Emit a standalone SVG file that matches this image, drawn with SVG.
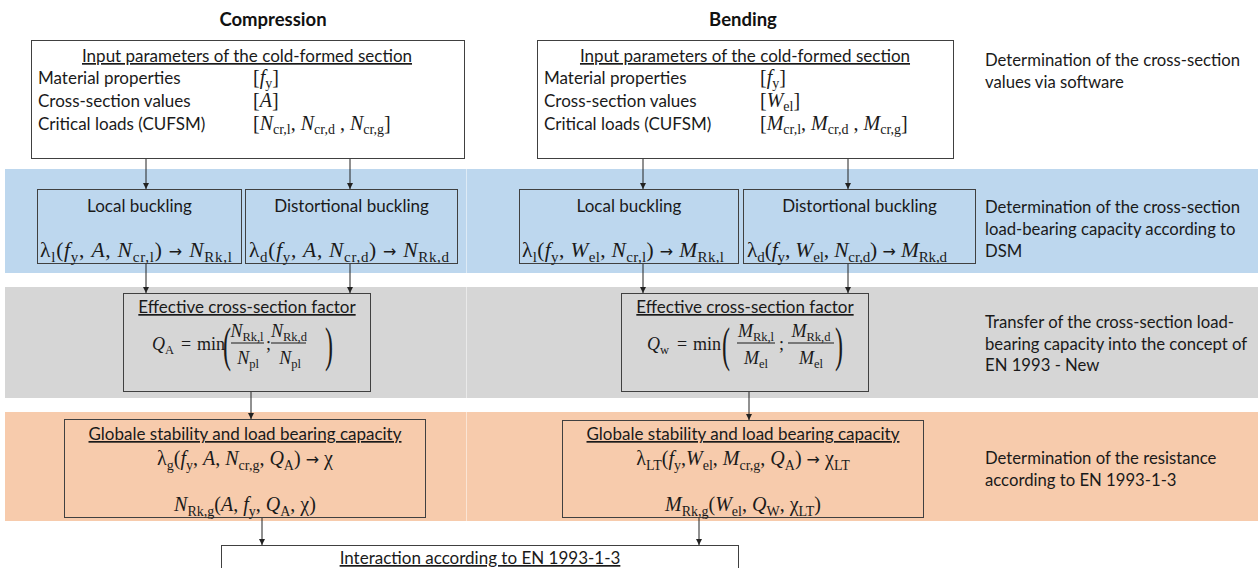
<svg xmlns="http://www.w3.org/2000/svg" width="1258" height="568" viewBox="0 0 1258 568">
<defs>
<style>
.sans{font-family:Lato,"Open Sans","Liberation Sans",sans-serif;font-size:17px;fill:#1a1a1a}
.head{font-family:Lato,"Open Sans","Liberation Sans",sans-serif;font-size:18.5px;font-weight:bold;fill:#111}
.note{font-family:Lato,"Open Sans","Liberation Sans",sans-serif;font-size:16.7px;fill:#1a1a1a}
.m{font-family:"Liberation Serif","DejaVu Serif",serif;font-size:20px;fill:#1a1a1a}
.b{font-size:21.5px}
.f{font-family:"Liberation Serif","DejaVu Serif",serif;font-size:18px;fill:#1a1a1a}
.i{font-style:italic}
.s{font-size:14px}
.bs{font-size:15px}
.fs{font-size:12.5px}
.ar{font-family:"DejaVu Sans",sans-serif;font-size:16px}
.u{text-decoration:underline}
.box{stroke:#404040;stroke-width:1}
.w{fill:#ffffff}
.bl{fill:none}
.gr{fill:#d6d6d6}
.or{fill:#f7cbac}
.conn line{stroke:#222;stroke-width:1}
.fl{stroke:#1a1a1a;stroke-width:1}
.par{font-family:"Liberation Serif","DejaVu Serif",serif;font-size:24px;fill:#1a1a1a}
</style>
<marker id="ah" markerUnits="userSpaceOnUse" markerWidth="7" markerHeight="7" refX="6" refY="3" orient="auto">
<path d="M0,0 L6,3 L0,6 z" fill="#222"/>
</marker>
</defs>

<g id="bands">
<rect x="5" y="169" width="461" height="104" fill="#bdd7ee"/>
<rect x="466.5" y="169" width="791.5" height="104" fill="#bdd7ee"/>
<rect x="5" y="287" width="461" height="111" fill="#d6d6d6"/>
<rect x="466.5" y="287" width="791.5" height="111" fill="#d6d6d6"/>
<rect x="5" y="412" width="461" height="109" fill="#f7cbac"/>
<rect x="466.5" y="412" width="791.5" height="109" fill="#f7cbac"/>
</g>

<g id="headings">
<text class="head" x="273" y="26" text-anchor="middle">Compression</text>
<text class="head" x="743" y="26" text-anchor="middle">Bending</text>
</g>

<g id="input-compression">
<rect class="box w" x="31.5" y="40.5" width="433" height="118"/>
<text class="sans u" x="247" y="62" text-anchor="middle">Input parameters of the cold-formed section</text>
<text class="sans" x="38" y="84">Material properties</text>
<text class="sans" x="38" y="107">Cross-section values</text>
<text class="sans" x="38" y="130">Critical loads (CUFSM)</text>
<text class="m" x="253" y="84">[<tspan class="i">f</tspan><tspan class="s" dy="4">y</tspan><tspan dy="-4">]</tspan></text>
<text class="m" x="253" y="107">[<tspan class="i">A</tspan>]</text>
<text class="m" x="253" y="130">[<tspan class="i">N</tspan><tspan class="s" dy="4">cr,l</tspan><tspan dy="-4">, </tspan><tspan class="i">N</tspan><tspan class="s" dy="4">cr,d</tspan><tspan dy="-4"> , </tspan><tspan class="i">N</tspan><tspan class="s" dy="4">cr,g</tspan><tspan dy="-4">]</tspan></text>
</g>

<g id="input-bending">
<rect class="box w" x="537.5" y="40.5" width="416" height="118"/>
<text class="sans u" x="745" y="62" text-anchor="middle">Input parameters of the cold-formed section</text>
<text class="sans" x="544" y="84">Material properties</text>
<text class="sans" x="544" y="107">Cross-section values</text>
<text class="sans" x="544" y="130">Critical loads (CUFSM)</text>
<text class="m" x="760" y="84">[<tspan class="i">f</tspan><tspan class="s" dy="4">y</tspan><tspan dy="-4">]</tspan></text>
<text class="m" x="760" y="107">[<tspan class="i">W</tspan><tspan class="s" dy="4">el</tspan><tspan dy="-4">]</tspan></text>
<text class="m" x="760" y="130">[<tspan class="i">M</tspan><tspan class="s" dy="4">cr,l</tspan><tspan dy="-4">, </tspan><tspan class="i">M</tspan><tspan class="s" dy="4">cr,d</tspan><tspan dy="-4"> , </tspan><tspan class="i">M</tspan><tspan class="s" dy="4">cr,g</tspan><tspan dy="-4">]</tspan></text>
</g>

<g id="local-compression">
<rect class="box bl" x="37.5" y="189.5" width="204" height="74"/>
<text class="sans" x="139.5" y="212" text-anchor="middle">Local buckling</text>
<text class="m b" x="40" y="257" textLength="192" lengthAdjust="spacing">λ<tspan class="bs" dy="5">l</tspan><tspan dy="-5">(</tspan><tspan class="i">f</tspan><tspan class="bs" dy="5">y</tspan><tspan dy="-5">, </tspan><tspan class="i">A</tspan>, <tspan class="i">N</tspan><tspan class="bs" dy="5">cr,l</tspan><tspan dy="-5">) </tspan><tspan class="ar">→</tspan> <tspan class="i">N</tspan><tspan class="bs" dy="5">Rk,l</tspan></text>
</g>

<g id="distortional-compression">
<rect class="box bl" x="245.5" y="189.5" width="212" height="74"/>
<text class="sans" x="351.5" y="212" text-anchor="middle">Distortional buckling</text>
<text class="m b" x="249" y="257" textLength="200" lengthAdjust="spacing">λ<tspan class="bs" dy="5">d</tspan><tspan dy="-5">(</tspan><tspan class="i">f</tspan><tspan class="bs" dy="5">y</tspan><tspan dy="-5">, </tspan><tspan class="i">A</tspan>, <tspan class="i">N</tspan><tspan class="bs" dy="5">cr,d</tspan><tspan dy="-5">) </tspan><tspan class="ar">→</tspan> <tspan class="i">N</tspan><tspan class="bs" dy="5">Rk,d</tspan></text>
</g>

<g id="local-bending">
<rect class="box bl" x="519.5" y="189.5" width="219" height="74"/>
<text class="sans" x="629" y="212" text-anchor="middle">Local buckling</text>
<text class="m b" x="522" y="257" textLength="202" lengthAdjust="spacing">λ<tspan class="bs" dy="5">l</tspan><tspan dy="-5">(</tspan><tspan class="i">f</tspan><tspan class="bs" dy="5">y</tspan><tspan dy="-5">, </tspan><tspan class="i">W</tspan><tspan class="bs" dy="5">el</tspan><tspan dy="-5">, </tspan><tspan class="i">N</tspan><tspan class="bs" dy="5">cr,l</tspan><tspan dy="-5">) </tspan><tspan class="ar">→</tspan> <tspan class="i">M</tspan><tspan class="bs" dy="5">Rk,l</tspan></text>
</g>

<g id="distortional-bending">
<rect class="box bl" x="743.5" y="189.5" width="232" height="74"/>
<text class="sans" x="859.5" y="212" text-anchor="middle">Distortional buckling</text>
<text class="m b" x="747" y="257" textLength="200" lengthAdjust="spacing">λ<tspan class="bs" dy="5">d</tspan><tspan dy="-5">(</tspan><tspan class="i">f</tspan><tspan class="bs" dy="5">y</tspan><tspan dy="-5">, </tspan><tspan class="i">W</tspan><tspan class="bs" dy="5">el</tspan><tspan dy="-5">, </tspan><tspan class="i">N</tspan><tspan class="bs" dy="5">cr,d</tspan><tspan dy="-5">) </tspan><tspan class="ar">→</tspan> <tspan class="i">M</tspan><tspan class="bs" dy="5">Rk,d</tspan></text>
</g>

<g id="factor-compression">
<rect class="box gr" x="123.5" y="293.5" width="247" height="98"/>
<text class="sans u" x="247" y="313" text-anchor="middle">Effective cross-section factor</text>
<text class="f" x="152" y="350"><tspan class="i">Q</tspan><tspan class="fs" dy="4">A</tspan></text>
<text class="f" x="181" y="350">=</text>
<text class="f" x="197" y="350">min</text>
<text class="par" transform="translate(223,361) scale(1,2)">(</text>
<text class="f" x="247" y="337" text-anchor="middle"><tspan class="i">N</tspan><tspan class="fs" dy="4">Rk,l</tspan></text>
<line class="fl" x1="231" y1="343" x2="264" y2="343"/>
<text class="f" x="248" y="364" text-anchor="middle"><tspan class="i">N</tspan><tspan class="fs" dy="4">pl</tspan></text>
<text class="f" x="266" y="350">;</text>
<text class="f" x="289" y="337" text-anchor="middle"><tspan class="i">N</tspan><tspan class="fs" dy="4">Rk,d</tspan></text>
<line class="fl" x1="271" y1="343" x2="306" y2="343"/>
<text class="f" x="290" y="364" text-anchor="middle"><tspan class="i">N</tspan><tspan class="fs" dy="4">pl</tspan></text>
<text class="par" transform="translate(325,361) scale(1,2)">)</text>
</g>

<g id="factor-bending">
<rect class="box gr" x="621.5" y="293.5" width="247" height="98"/>
<text class="sans u" x="745" y="313" text-anchor="middle">Effective cross-section factor</text>
<text class="f" x="647" y="350"><tspan class="i">Q</tspan><tspan class="fs" dy="4">w</tspan></text>
<text class="f" x="677" y="350">=</text>
<text class="f" x="693" y="350">min</text>
<text class="par" transform="translate(722,361) scale(1,2)">(</text>
<text class="f" x="756" y="337" text-anchor="middle"><tspan class="i">M</tspan><tspan class="fs" dy="4">Rk,l</tspan></text>
<line class="fl" x1="737" y1="343" x2="775" y2="343"/>
<text class="f" x="756" y="364" text-anchor="middle"><tspan class="i">M</tspan><tspan class="fs" dy="4">el</tspan></text>
<text class="f" x="779" y="350">;</text>
<text class="f" x="811" y="337" text-anchor="middle"><tspan class="i">M</tspan><tspan class="fs" dy="4">Rk,d</tspan></text>
<line class="fl" x1="788" y1="343" x2="834" y2="343"/>
<text class="f" x="811" y="364" text-anchor="middle"><tspan class="i">M</tspan><tspan class="fs" dy="4">el</tspan></text>
<text class="par" transform="translate(835,361) scale(1,2)">)</text>
</g>

<g id="global-compression">
<rect class="box or" x="64.5" y="419.5" width="361" height="98"/>
<text class="sans u" x="245" y="440" text-anchor="middle">Globale stability and load bearing capacity</text>
<text class="m" x="245" y="465" text-anchor="middle">λ<tspan class="s" dy="5">g</tspan><tspan dy="-5">(</tspan><tspan class="i">f</tspan><tspan class="s" dy="5">y</tspan><tspan dy="-5">, </tspan><tspan class="i">A</tspan>, <tspan class="i">N</tspan><tspan class="s" dy="5">cr,g</tspan><tspan dy="-5">, </tspan><tspan class="i">Q</tspan><tspan class="s" dy="5">A</tspan><tspan dy="-5">) </tspan><tspan class="ar">→</tspan> χ</text>
<text class="m" x="245" y="511" text-anchor="middle"><tspan class="i">N</tspan><tspan class="s" dy="5">Rk,g</tspan><tspan dy="-5">(</tspan><tspan class="i">A</tspan>, <tspan class="i">f</tspan><tspan class="s" dy="5">y</tspan><tspan dy="-5">, </tspan><tspan class="i">Q</tspan><tspan class="s" dy="5">A</tspan><tspan dy="-5">, χ)</tspan></text>
</g>

<g id="global-bending">
<rect class="box or" x="562.5" y="420.5" width="361" height="97"/>
<text class="sans u" x="743" y="440" text-anchor="middle">Globale stability and load bearing capacity</text>
<text class="m" x="743" y="465" text-anchor="middle">λ<tspan class="s" dy="5">LT</tspan><tspan dy="-5">(</tspan><tspan class="i">f</tspan><tspan class="s" dy="5">y</tspan><tspan dy="-5">,</tspan><tspan class="i">W</tspan><tspan class="s" dy="5">el</tspan><tspan dy="-5">, </tspan><tspan class="i">M</tspan><tspan class="s" dy="5">cr,g</tspan><tspan dy="-5">, </tspan><tspan class="i">Q</tspan><tspan class="s" dy="5">A</tspan><tspan dy="-5">) </tspan><tspan class="ar">→</tspan> χ<tspan class="s" dy="5">LT</tspan></text>
<text class="m" x="743" y="511" text-anchor="middle"><tspan class="i">M</tspan><tspan class="s" dy="5">Rk,g</tspan><tspan dy="-5">(</tspan><tspan class="i">W</tspan><tspan class="s" dy="5">el</tspan><tspan dy="-5">, </tspan><tspan class="i">Q</tspan><tspan class="s" dy="5">W</tspan><tspan dy="-5">, χ</tspan><tspan class="s" dy="5">LT</tspan><tspan dy="-5">)</tspan></text>
</g>

<g id="interaction">
<rect class="box w" x="221.5" y="545.5" width="517" height="40"/>
<text class="sans u" x="480" y="564" text-anchor="middle">Interaction according to EN 1993-1-3</text>
</g>

<g id="notes">
<text class="note" x="985" y="66">Determination of the cross-section</text>
<text class="note" x="985" y="88">values via software</text>
<text class="note" x="985" y="213">Determination of the cross-section</text>
<text class="note" x="985" y="235">load-bearing capacity according to</text>
<text class="note" x="985" y="257">DSM</text>
<text class="note" x="985" y="328">Transfer of the cross-section load-</text>
<text class="note" x="985" y="350">bearing capacity into the concept of</text>
<text class="note" x="985" y="371">EN 1993 - New</text>
<text class="note" x="985" y="464">Determination of the resistance</text>
<text class="note" x="985" y="486">according to EN 1993-1-3</text>
</g>

<g id="connectors" class="conn">
<line x1="146" y1="159" x2="146" y2="189" marker-end="url(#ah)"/>
<line x1="350" y1="159" x2="350" y2="189" marker-end="url(#ah)"/>
<line x1="146" y1="264" x2="146" y2="293" marker-end="url(#ah)"/>
<line x1="350" y1="264" x2="350" y2="293" marker-end="url(#ah)"/>
<line x1="251" y1="392" x2="251" y2="419" marker-end="url(#ah)"/>
<line x1="262" y1="518" x2="262" y2="545" marker-end="url(#ah)"/>
<line x1="643" y1="159" x2="643" y2="189" marker-end="url(#ah)"/>
<line x1="848" y1="159" x2="848" y2="189" marker-end="url(#ah)"/>
<line x1="643" y1="264" x2="643" y2="293" marker-end="url(#ah)"/>
<line x1="848" y1="264" x2="848" y2="293" marker-end="url(#ah)"/>
<line x1="749" y1="392" x2="749" y2="420" marker-end="url(#ah)"/>
<line x1="699" y1="518" x2="699" y2="545" marker-end="url(#ah)"/>
</g>
</svg>
